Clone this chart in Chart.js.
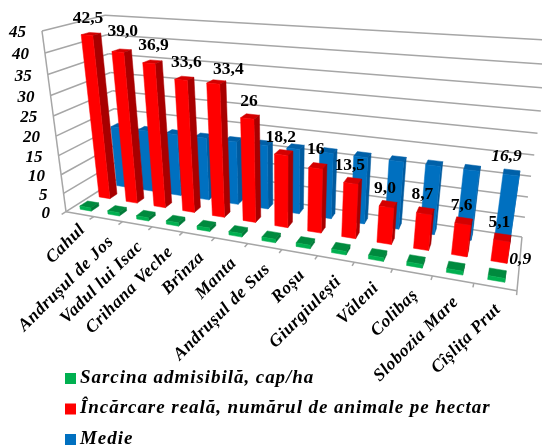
<!DOCTYPE html>
<html>
<head>
<meta charset="utf-8">
<script src="https://cdn.jsdelivr.net/npm/chart.js@4"></script>
<style>
    html, body { margin: 0; padding: 0; background: #fff; }
    canvas { display: block; }
</style>
</head>
<body>
<canvas id="chart" width="542" height="445"></canvas>
<script>
var categories = ['Cahul', 'Andrușul de Jos', 'Vadul lui Isac', 'Crihana Veche', 'Brînza', 'Manta',
    'Andrușul de Sus', 'Roșu', 'Giurgiulești', 'Văleni', 'Colibaș', 'Slobozia Mare', 'Cîșlița Prut'];
var sarcina = [0.9, 0.9, 0.9, 0.9, 0.9, 0.9, 0.9, 0.9, 0.9, 0.9, 0.9, 0.9, 0.9];
var incarcare = [42.5, 39.0, 36.9, 33.6, 33.4, 26, 18.2, 16, 13.5, 9.0, 8.7, 7.6, 5.1];
var medie = [16.9, 16.9, 16.9, 16.9, 16.9, 16.9, 16.9, 16.9, 16.9, 16.9, 16.9, 16.9, 16.9];
var incarcareText = ['42,5', '39,0', '36,9', '33,6', '33,4', '26', '18,2', '16', '13,5', '9,0', '8,7', '7,6', '5,1'];

// label nudges, px from the top of each red bar
var shiftX = [-3, 1, 1, 2, 12, -1, -3, -2, -3, -3, -3, -2, -3];
var shiftY = [-15, -19, -16, -16, -13, -15, -15, -16, -15, -16, -16, -16, -15];

// perspective box: corners on screen plus the three foreshortening terms
var origin = [66, 211.7];
var endU = [517, 290.7];
var endV = [42, 31];
var endW = [120.7, 177];
var cu = -0.213, cv = -0.1, cw = 0.1266;

function project(u, v, w) {
    var d = 1 + cu * u + cv * v + cw * w;
    var p = [0, 1].map(function (k) {
        return origin[k]
            + (endU[k] * (1 + cu) - origin[k]) * u
            + (endV[k] * (1 + cv) - origin[k]) * v
            + (endW[k] * (1 + cw) - origin[k]) * w;
    });
    return [p[0] / d, p[1] / d];
}

function line(ctx, a, b) {
    ctx.beginPath();
    ctx.moveTo(a[0], a[1]);
    ctx.lineTo(b[0], b[1]);
    ctx.stroke();
}

function face(ctx, pts, color) {
    ctx.fillStyle = color;
    ctx.strokeStyle = color;
    ctx.lineWidth = 0.5;
    ctx.beginPath();
    pts.forEach(function (p, i) {
        if (i == 0) ctx.moveTo(p[0], p[1]);
        else ctx.lineTo(p[0], p[1]);
    });
    ctx.closePath();
    ctx.fill();
    ctx.stroke();
}

function valueFraction(chart, value) {
    var area = chart.chartArea;
    return (area.bottom - chart.scales.y.getPixelForValue(value)) / area.height;
}

function drawWalls(chart) {
    var ctx = chart.ctx;
    ctx.save();
    ctx.strokeStyle = '#a6a6a6';
    ctx.lineWidth = 1.5;
    chart.scales.y.ticks.forEach(function (t) {
        var v = valueFraction(chart, t.value);
        line(ctx, project(0, v, 0), project(0, v, 1));
        line(ctx, project(0, v, 1), project(1, v, 1));
    });
    line(ctx, project(0, 0, 0), project(0, 1, 0));
    line(ctx, project(0, 0, 0), project(1, 0, 0));
    line(ctx, project(1, 0, 0), project(1, 0, 1));
    for (var i = 0; i <= categories.length; i++) {
        var u = i / categories.length;
        line(ctx, project(u, 0, 0), project(u, 0, -0.07));
    }
    ctx.restore();
}

// each series sits in its own row along the depth axis, the last one at the back
function drawBars(chart) {
    var ctx = chart.ctx;
    var area = chart.chartArea;
    var rows = chart.data.datasets.length;
    for (var r = rows - 1; r >= 0; r--) {
        var ds = chart.data.datasets[r];
        var w0 = (r + 0.3) / rows;
        var w1 = (r + 0.7) / rows;
        chart.getDatasetMeta(r).data.forEach(function (bar) {
            var u0 = (bar.x - bar.width / 2 - area.left) / area.width;
            var u1 = (bar.x + bar.width / 2 - area.left) / area.width;
            var top = (area.bottom - bar.y) / area.height;
            var low = (area.bottom - bar.base) / area.height;
            face(ctx, [project(u0, top, w0), project(u1, top, w0), project(u1, top, w1), project(u0, top, w1)], ds.topColor);
            face(ctx, [project(u1, low, w0), project(u1, top, w0), project(u1, top, w1), project(u1, low, w1)], ds.sideColor);
            face(ctx, [project(u0, low, w0), project(u1, low, w0), project(u1, top, w0), project(u0, top, w0)], ds.backgroundColor);
        });
    }
}

function barTop(chart, r, i) {
    var area = chart.chartArea;
    var bar = chart.getDatasetMeta(r).data[i];
    var rows = chart.data.datasets.length;
    return project((bar.x - area.left) / area.width, (area.bottom - bar.y) / area.height, (r + 0.5) / rows);
}

function drawTexts(chart) {
    var ctx = chart.ctx;
    var last = categories.length - 1;
    ctx.save();
    ctx.fillStyle = '#000';
    ctx.textBaseline = 'middle';

    // value axis
    ctx.font = 'italic bold 17px "Liberation Serif"';
    ctx.textAlign = 'right';
    chart.scales.y.ticks.forEach(function (t) {
        var p = project(0, valueFraction(chart, t.value), 0);
        ctx.fillText(t.label, p[0] - 16, p[1] + 2);
    });

    // category names, slanted; the first one sits a little higher
    ctx.font = 'italic bold 17.5px "Liberation Serif"';
    ctx.letterSpacing = '0.6px';
    categories.forEach(function (name, i) {
        var p = project((i + 0.5) / categories.length, 0, 0);
        ctx.save();
        ctx.translate(p[0] + 3, p[1] + (i == 0 ? 13 : 20));
        ctx.rotate(-Math.PI / 4);
        ctx.fillText(name, 0, 0);
        ctx.restore();
    });
    ctx.letterSpacing = '0px';

    // value labels
    ctx.textAlign = 'center';
    ctx.font = 'bold 17.5px "Liberation Serif"';
    incarcareText.forEach(function (text, i) {
        var p = barTop(chart, 1, i);
        ctx.fillText(text, p[0] + shiftX[i], p[1] + shiftY[i]);
    });
    ctx.font = 'italic bold 17.5px "Liberation Serif"';
    var m = barTop(chart, 2, last);
    ctx.fillText('16,9', m[0] - 5, m[1] - 16);
    var s = barTop(chart, 0, last);
    ctx.fillText('0,9', s[0] + 23, s[1] - 14);

    // legend, one entry per row
    ctx.textAlign = 'left';
    ctx.font = 'italic bold 19px "Liberation Serif"';
    ctx.letterSpacing = '0.95px';
    chart.data.datasets.forEach(function (ds, r) {
        var y = 378 + r * 30.5;
        ctx.fillStyle = ds.backgroundColor;
        ctx.fillRect(65, y - 5, 11, 11);
        ctx.fillStyle = '#000';
        ctx.fillText(ds.label, 80, y);
    });
    ctx.restore();
}

var bars3d = {
    id: 'bars3d',
    beforeDatasetsDraw: function (chart) {
        drawWalls(chart);
        drawBars(chart);
        return false;
    },
    afterDraw: function (chart) {
        drawTexts(chart);
    }
};

var ctx = document.getElementById('chart').getContext('2d');

var chart = new Chart(ctx, {
    type: 'bar',
    data: {
        labels: categories,
        datasets: [
            { label: 'Sarcina admisibilă, cap/ha', data: sarcina, backgroundColor: '#00b050', sideColor: '#007a38', topColor: '#008a3e' },
            { label: 'Încărcare reală, numărul de animale pe hectar', data: incarcare, backgroundColor: '#ff0000', sideColor: '#a80000', topColor: '#d40000' },
            { label: 'Medie', data: medie, backgroundColor: '#0070c0', sideColor: '#005a9e', topColor: '#0060a8' }
        ]
    },
    options: {
        responsive: false,
        animation: false,
        devicePixelRatio: 1,
        layout: { padding: 0 },
        plugins: { legend: { display: false }, tooltip: { enabled: false } },
        datasets: { bar: { grouped: false, categoryPercentage: 1, barPercentage: 0.4 } },
        scales: {
            x: { display: false, stacked: false },
            y: { display: false, min: 0, max: 45, ticks: { stepSize: 5 } }
        }
    },
    plugins: [bars3d]
});
</script>
</body>
</html>
